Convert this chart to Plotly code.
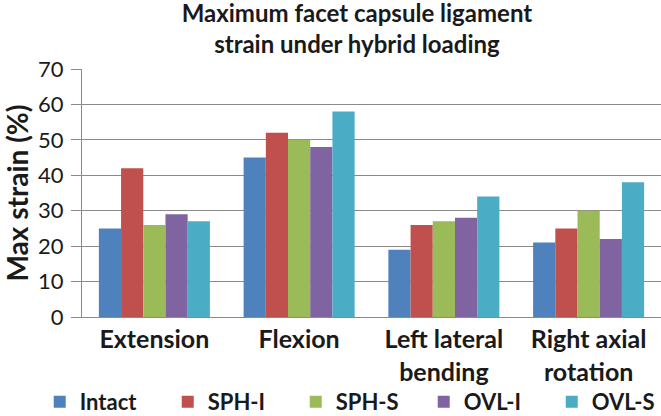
import plotly.graph_objects as go

categories = ["Extension", "Flexion", "Left lateral<br>bending", "Right axial<br>rotation"]
series_names = ["Intact", "SPH-I", "SPH-S", "OVL-I", "OVL-S"]
intact = [25, 45, 19, 21]
sph_i = [42, 52, 26, 25]
sph_s = [26, 50, 27, 30]
ovl_i = [29, 48, 28, 22]
ovl_s = [27, 58, 34, 38]
colors = ["#4F81BD", "#C0504D", "#9BBB59", "#8064A2", "#4BACC6"]
y_ticks = [0, 10, 20, 30, 40, 50, 60, 70]

values = [intact, sph_i, sph_s, ovl_i, ovl_s]

fig = go.Figure()
for name, vals, col in zip(series_names, values, colors):
    fig.add_trace(go.Bar(x=categories, y=vals, name=name, marker_color=col,
                         marker_line_width=0))

grid = "#8a8a8a"
txt = "#1a1a1a"
fig.update_layout(
    width=661, height=416,
    paper_bgcolor="white", plot_bgcolor="white",
    margin=dict(l=82, r=0, t=69, b=99, autoexpand=False),
    barmode="group", bargap=0.233, bargroupgap=0,
    font=dict(family="Lato", color=txt),
    title=dict(text="<b>Maximum facet capsule ligament<br>strain under hybrid loading</b>",
               x=0.54, xanchor="center", xref="container",
               y=0.947, yanchor="middle", yref="container",
               font=dict(family="Lato", size=24, color=txt)),
    showlegend=True,
    legend=dict(orientation="h", x=-0.073, xanchor="left", y=-0.343, yanchor="middle",
                entrywidth=83, entrywidthmode="pixels", traceorder="normal",
                font=dict(family="Lato", size=22, color=txt, weight="bold"),
                itemwidth=30, bgcolor="rgba(0,0,0,0)"),
)
fig.update_xaxes(showline=True, linecolor=grid, linewidth=1, automargin=False,
                 tickfont=dict(family="Lato", size=25, color=txt, weight="bold"),
                 ticks="", ticklabelstandoff=0)
fig.update_yaxes(range=[0, 70], tickvals=y_ticks, showgrid=True, gridcolor=grid, gridwidth=1,
                 showline=True, linecolor=grid, linewidth=1, zeroline=False, automargin=True,
                 ticks="outside", ticklen=10, tickcolor=grid, ticklabelstandoff=3,
                 tickfont=dict(family="Lato", size=22, color=txt),
                 title=dict(text="<b>Max strain (%)</b>", standoff=6,
                            font=dict(family="Lato", size=28, color=txt)))

fig.write_html("out.html", config={"displayModeBar": False},
               post_script="document.body.style.margin='0';")
